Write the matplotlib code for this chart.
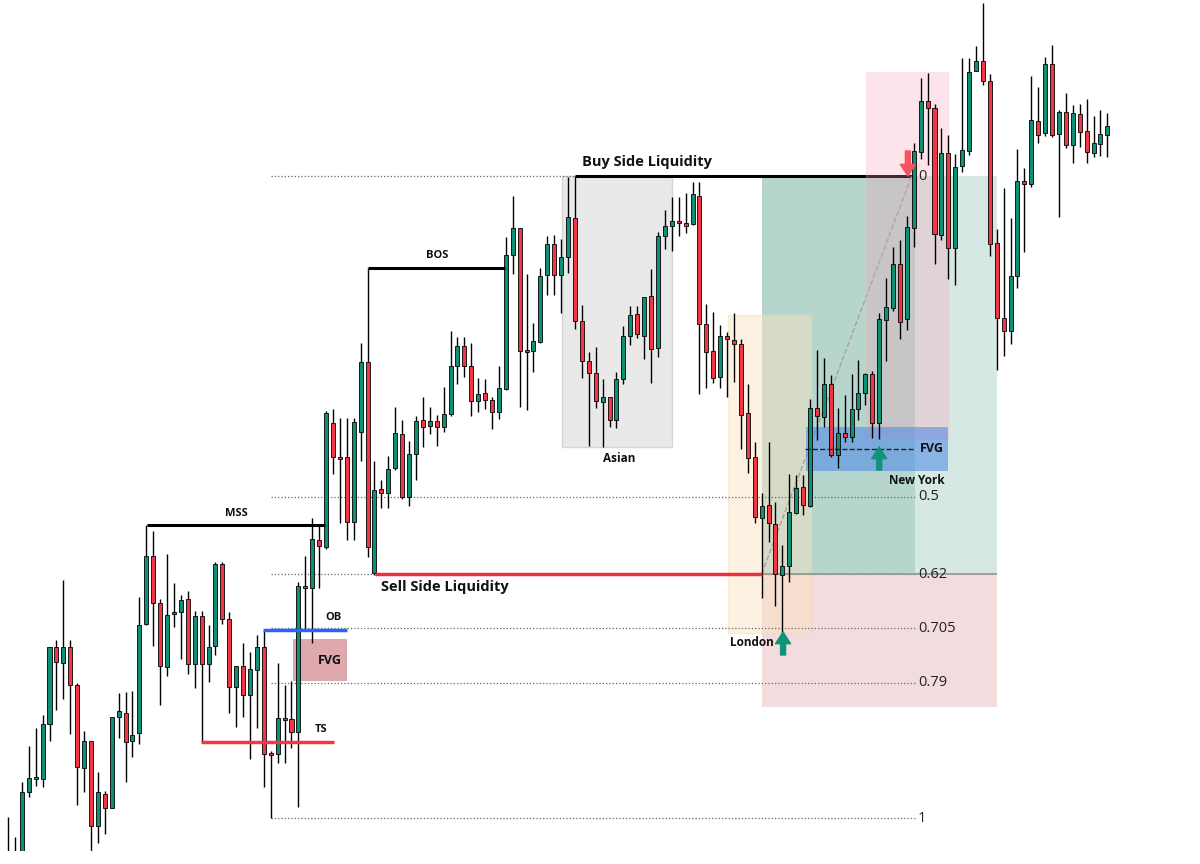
import numpy as np
import matplotlib
matplotlib.use('Agg')
import matplotlib.pyplot as plt
from matplotlib.patches import Rectangle

# candle levels (screen units, larger = lower price)
opens = [870, 858, 868, 792, 778, 779, 724, 647, 663, 647,
         685, 768, 741, 826, 794, 808, 717, 713, 741, 733,
         624, 556, 603, 667, 614, 612, 599, 664, 616, 664,
         646, 564, 619, 687, 666, 695, 670, 647, 753, 754,
         719, 719, 732, 586, 588, 540, 547, 423, 457, 457,
         522, 432, 362, 573, 489, 493, 468, 434, 497, 454,
         420, 426, 421, 427, 414, 366, 346, 366, 401, 393,
         400, 412, 389, 255, 228, 350, 351, 342, 275, 244,
         275, 257, 218, 321, 361, 373, 402, 397, 420, 379,
         336, 314, 336, 296, 348, 236, 226, 221, 223, 224,
         196, 324, 351, 377, 336, 340, 344, 413, 457, 518,
         505, 524, 575, 566, 513, 487, 506, 408, 417, 384,
         455, 433, 437, 409, 393, 374, 423, 320, 308, 264,
         319, 228, 152, 101, 108, 235, 153, 248, 166, 151,
         71, 61, 81, 243, 318, 331, 276, 181, 184, 121,
         133, 64, 134, 112, 145, 114, 131, 153, 144, 135]
highs = [817, 837, 782, 746, 728, 715, 647, 640, 580, 640,
         683, 731, 741, 772, 791, 717, 693, 692, 691, 597,
         525, 531, 599, 554, 583, 595, 591, 611, 611, 625,
         562, 562, 612, 666, 643, 652, 635, 630, 751, 663,
         685, 681, 582, 556, 518, 524, 411, 409, 418, 418,
         418, 343, 362, 461, 480, 456, 407, 420, 441, 416,
         397, 407, 415, 387, 331, 337, 337, 343, 378, 379,
         397, 366, 237, 196, 228, 274, 323, 268, 236, 235,
         239, 177, 176, 305, 352, 347, 379, 397, 372, 326,
         306, 306, 297, 269, 232, 210, 197, 197, 193, 182,
         182, 304, 312, 325, 332, 313, 339, 384, 442, 493,
         442, 502, 545, 474, 475, 475, 399, 350, 358, 375,
         408, 395, 374, 360, 373, 371, 313, 278, 247, 240,
         216, 143, 78, 73, 104, 128, 135, 154, 58, 58,
         46, 3, 74, 229, 188, 218, 149, 168, 76, 87,
         57, 45, 110, 93, 105, 104, 99, 116, 110, 113]
lows = [878, 880, 875, 797, 786, 787, 741, 710, 699, 734,
        805, 792, 851, 843, 834, 808, 738, 782, 757, 744,
        625, 646, 705, 676, 627, 659, 674, 688, 742, 682,
        655, 624, 713, 727, 717, 759, 728, 787, 818, 763,
        763, 748, 807, 630, 643, 588, 549, 474, 523, 540,
        540, 461, 557, 575, 508, 508, 470, 499, 506, 480,
        447, 434, 446, 432, 416, 384, 377, 416, 412, 409,
        429, 419, 390, 274, 407, 410, 372, 343, 295, 295,
        313, 273, 329, 378, 446, 408, 447, 427, 428, 384,
        345, 338, 359, 383, 357, 249, 251, 236, 233, 225,
        394, 388, 383, 388, 397, 382, 449, 473, 523, 598,
        542, 606, 633, 582, 514, 515, 507, 440, 427, 457,
        468, 442, 442, 420, 405, 438, 439, 361, 311, 339,
        330, 247, 159, 165, 264, 240, 279, 285, 172, 155,
        71, 85, 256, 370, 356, 344, 288, 252, 187, 143,
        136, 137, 217, 148, 163, 147, 163, 157, 156, 157]
closes = [856, 872, 792, 778, 777, 724, 647, 662, 647, 685,
          767, 741, 826, 792, 808, 717, 711, 742, 735, 625,
          556, 603, 666, 615, 612, 600, 664, 616, 664, 647,
          564, 619, 687, 666, 695, 669, 647, 754, 754, 718,
          718, 732, 586, 588, 539, 546, 413, 457, 458, 522,
          422, 362, 547, 490, 493, 469, 433, 497, 454, 421,
          427, 421, 427, 414, 366, 346, 366, 401, 394, 400,
          412, 388, 255, 228, 351, 351, 341, 276, 244, 275,
          257, 217, 321, 361, 373, 401, 397, 420, 379, 336,
          315, 334, 297, 349, 236, 226, 221, 223, 226, 194,
          324, 352, 378, 336, 339, 344, 415, 458, 517, 506,
          523, 574, 566, 512, 488, 505, 408, 416, 384, 455,
          433, 437, 409, 393, 374, 423, 319, 307, 264, 322,
          227, 151, 101, 108, 234, 153, 248, 167, 150, 72,
          61, 81, 244, 318, 331, 276, 181, 184, 120, 135,
          64, 135, 112, 145, 113, 132, 152, 143, 134, 126]

fib_levels = [176, 497, 574, 628, 683, 818]
fib_labels = ['0', '0.5', '0.62', '0.705', '0.79', '1']

GREEN = '#0f8f73'
RED = '#f23645'
FONT = 'Open Sans'

o = np.array(opens)
h = np.array(highs)
l = np.array(lows)
c = np.array(closes)
idx = np.arange(len(o))
colors = [GREEN if cc < oo else RED for oo, cc in zip(o, c)]

fig = plt.figure(figsize=(12, 8.64), dpi=100)
ax = fig.add_axes([0, 13 / 864, 1, 851 / 864])
ax.set_xlim(-1.16, 172.4)
ax.set_ylim(851, 0)
ax.axis('off')


def box(x0, x1, y0, y1, fc, alpha=1.0, ec='none', z=1):
    ax.add_patch(Rectangle((x0, y0), x1 - x0, y1 - y0, facecolor=fc, alpha=alpha,
                           edgecolor=ec, linewidth=1, zorder=z))


# session / position boxes
box(80.1, 96.0, 176, 447, '#e4e4e4', 0.8, '#cfcfcf')
box(109.0, 143.0, 176, 574, '#d6e8e3')
box(109.0, 131.2, 176, 574, '#b6d5cc')
box(109.0, 143.0, 574, 707, '#f3dcdd')
box(104.1, 116.1, 315, 633, '#fbe3c0', 0.45, '#f5d9ae')
box(41.2, 49.0, 639, 681, '#d99aa0', 0.85)

# fib levels
for lv, lab in zip(fib_levels, fib_labels):
    x_end = 82.0 if lv == 176 else 131.2
    ax.hlines(lv, 38.0, x_end, colors='#666666', linestyles=':', linewidth=0.9, zorder=2)
    ax.text(131.6, lv, lab, fontsize=10.5, family=FONT, color='#222222',
            va='center', ha='left', zorder=6)
ax.hlines(574, 109.0, 143.0, colors='#999999', linewidth=1.3, zorder=2)

# structure lines
ax.hlines(176, 82.0, 131.2, colors='black', linewidth=2.2, zorder=2)
ax.hlines(525, 20.1, 45.8, colors='black', linewidth=2.2, zorder=5)
ax.hlines(268, 52.1, 71.9, colors='black', linewidth=2.2, zorder=5)
ax.vlines(52.1, 268, 362, colors='black', linewidth=1, zorder=5)
ax.hlines(574, 53.1, 109.0, colors='#e8313e', linewidth=2.5, zorder=5)
ax.hlines(630, 36.9, 49.0, colors='#2962ff', linewidth=2.5, zorder=5)
ax.hlines(742, 27.9, 47.1, colors='#f23645', linewidth=2.5, zorder=5)
ax.plot([109.0, 130.7], [574, 176], color='#a8a0a0', linestyle='--', linewidth=1, zorder=2)

# kill zone boxes on top of the lines
box(124.1, 135.9, 72, 438, '#f89db3', 0.27, '#f7b7c7', z=2.5)
box(115.4, 135.9, 427, 471, '#4a86e8', 0.55, z=2.5)
ax.hlines(449, 115.3, 131.2, colors='#222222', linestyles='--', linewidth=1, zorder=5)

# candles
ax.vlines(idx, h, l, colors='black', linewidth=1, zorder=3)
ax.bar(idx, np.maximum(np.abs(c - o), 1.5), bottom=np.minimum(o, c), width=0.58,
       color=colors, edgecolor='black', linewidth=0.6, zorder=4)

# labels
bold = dict(family=FONT, fontweight='bold', color='#111111', ha='center', va='center', zorder=6)
ax.text(92.4, 162, 'Buy Side Liquidity', fontsize=10.5, **bold)
ax.text(63.2, 587, 'Sell Side Liquidity', fontsize=10.5, **bold)
ax.text(33.0, 514, 'MSS', fontsize=8, **bold)
ax.text(62.0, 256, 'BOS', fontsize=8, **bold)
ax.text(47.1, 617, 'OB', fontsize=8, **bold)
ax.text(46.6, 660, 'FVG', fontsize=9, **bold)
ax.text(45.3, 730, 'TS', fontsize=8, **bold)
ax.text(88.4, 459, 'Asian', fontsize=8.5, **bold)
ax.text(107.6, 643, 'London', fontsize=8.5, **bold)
ax.text(131.4, 480, 'New York', fontsize=8.5, **bold)
ax.text(133.6, 448, 'FVG', fontsize=9, **bold)

# arrows
arrow = 'simple,head_width=0.9,head_length=0.7,tail_width=0.3'
for x, tail, tip, col in [(112.1, 655, 632, '#0f9479'), (126.0, 470, 447, '#0f9479'),
                          (130.15, 151, 176, '#f7525f')]:
    ax.annotate('', xy=(x, tip), xytext=(x, tail),
                arrowprops=dict(arrowstyle=arrow, color=col, mutation_scale=12, shrinkA=0, shrinkB=0),
                zorder=6)

plt.savefig('out.png', dpi=100)
